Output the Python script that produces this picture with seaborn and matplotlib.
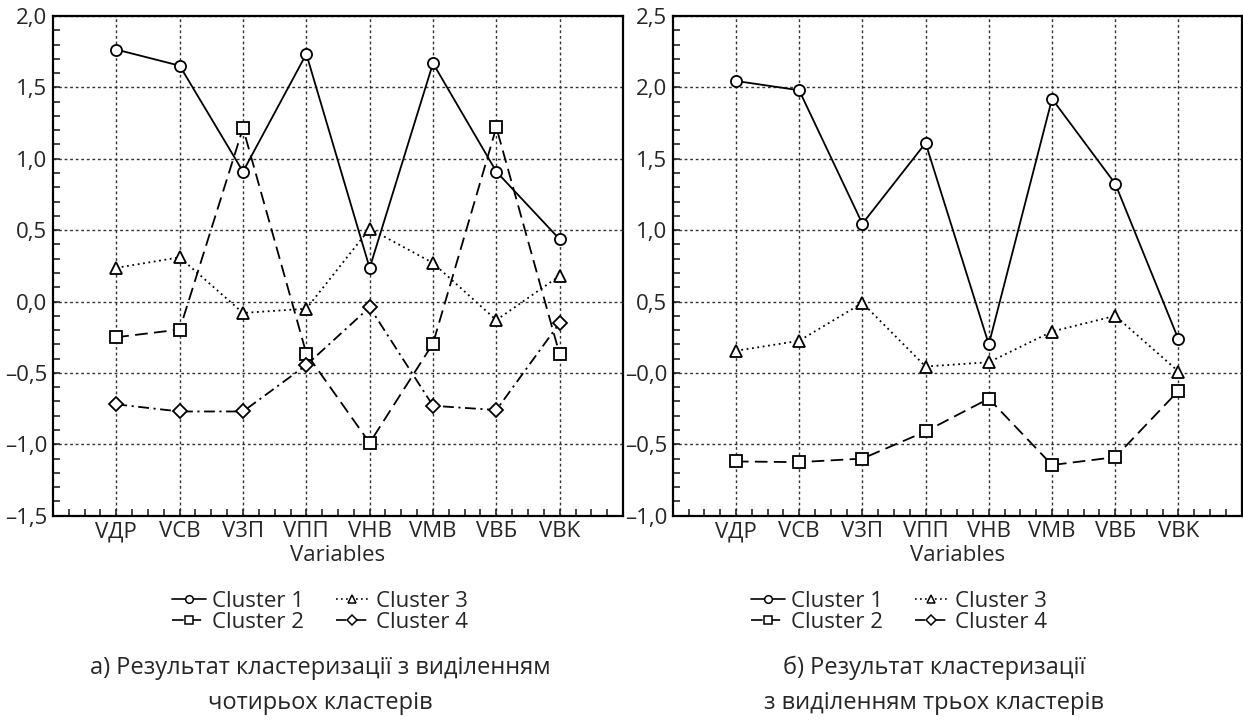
import seaborn as sns
import matplotlib.pyplot as plt
import pandas as pd
from matplotlib.lines import Line2D
from matplotlib.ticker import FixedLocator, MultipleLocator

# Дані
variables = ['VДР', 'VCB', 'V3П', 'VПП', 'VHB', 'VMB', 'VBБ', 'VBK']

# a) чотири кластери
c1_a = [1.765, 1.652, 0.910, 1.734, 0.235, 1.669, 0.910, 0.436]
c2_a = [-0.25, -0.196, 1.215, -0.364, -0.99, -0.294, 1.22, -0.37]
c3_a = [0.236, 0.31, -0.08, -0.05, 0.51, 0.27, -0.13, 0.18]
c4_a = [-0.72, -0.77, -0.77, -0.445, -0.04, -0.73, -0.76, -0.15]

# б) три кластери
c1_b = [2.045, 1.98, 1.045, 1.61, 0.20, 1.92, 1.325, 0.235]
c2_b = [-0.62, -0.625, -0.60, -0.41, -0.18, -0.645, -0.59, -0.125]
c3_b = [0.155, 0.225, 0.49, 0.045, 0.075, 0.29, 0.40, 0.01]

ytick_a = [-1.5, -1.0, -0.5, 0.0, 0.5, 1.0, 1.5, 2.0]
ylab_a = ['–1,5', '–1,0', '–0,5', '0,0', '0,5', '1,0', '1,5', '2,0']
ytick_b = [-1.0, -0.5, 0.0, 0.5, 1.0, 1.5, 2.0, 2.5]
ylab_b = ['–1,0', '–0,5', '–0,0', '0,5', '1,0', '1,5', '2,0', '2,5']

sns.set_style('white')
plt.rcParams['font.family'] = ['Open Sans', 'DejaVu Sans']

# стилі кластерів
styles = {
    'Cluster 1': dict(linestyle='-', marker='o'),
    'Cluster 2': dict(linestyle=(0, (7, 3.5)), marker='s'),
    'Cluster 3': dict(linestyle=(0, (1, 2)), marker='^'),
    'Cluster 4': dict(linestyle=(0, (6, 2.5, 1.2, 2.5)), marker='D'),
}
mk_size = {'o': 8, 's': 8, '^': 8.5, 'D': 7}

W, H = 1243, 722
fig = plt.figure(figsize=(W / 100, H / 100), dpi=100)
ax1 = fig.add_axes([53 / W, 1 - 515.7 / H, 570 / W, 499.7 / H])
ax2 = fig.add_axes([672.7 / W, 1 - 515.7 / H, 569 / W, 499.7 / H])


def draw(ax, series, yticks, ylabels):
    for name, vals in series.items():
        st = styles[name]
        df = pd.DataFrame({'var': variables, 'val': vals})
        sns.lineplot(data=df, x='var', y='val', ax=ax, color='black', linewidth=1.3,
                     linestyle=st['linestyle'], marker=st['marker'],
                     markersize=mk_size[st['marker']], markerfacecolor='white',
                     markeredgecolor='black', markeredgewidth=1.3, sort=False)
    ax.set_xlim(-1, len(variables))
    ax.set_ylim(yticks[0], yticks[-1])
    ax.yaxis.set_major_locator(FixedLocator(yticks))
    ax.set_yticklabels(ylabels)
    ax.yaxis.set_minor_locator(MultipleLocator(0.1))
    ax.xaxis.set_minor_locator(MultipleLocator(0.25))
    ax.tick_params(axis='both', which='both', direction='in', bottom=True, left=True,
                   top=False, right=False)
    ax.tick_params(axis='both', which='major', length=5, width=1.2, labelsize=16, pad=4)
    ax.tick_params(axis='both', which='minor', length=5, width=1.2)
    ax.grid(True, which='major', linestyle=(0, (2, 2)), color='#333333', linewidth=1)
    for s in ax.spines.values():
        s.set_color('black')
        s.set_linewidth(1.6)
    ax.set_xlabel('Variables', fontsize=16, labelpad=2)
    ax.set_ylabel('')


draw(ax1, {'Cluster 1': c1_a, 'Cluster 2': c2_a, 'Cluster 3': c3_a, 'Cluster 4': c4_a},
     ytick_a, ylab_a)
draw(ax2, {'Cluster 1': c1_b, 'Cluster 2': c2_b, 'Cluster 3': c3_b},
     ytick_b, ylab_b)

# легенди
handles = [Line2D([], [], color='black', linewidth=1.2, linestyle=styles[n]['linestyle'],
                  marker=styles[n]['marker'], markersize=5.5, markerfacecolor='white',
                  markeredgecolor='black', markeredgewidth=1.1, label=n)
           for n in styles]
for cx in (320, 899):
    fig.legend(handles=handles, ncol=2, loc='center', bbox_to_anchor=(cx / W, 1 - 612 / H),
               frameon=False, fontsize=16, handlelength=1.5, handletextpad=0.3,
               columnspacing=1.4, labelspacing=0.0, borderpad=0)

# підписи
fig.text(320 / W, 1 - 668 / H, 'а) Результат кластеризації з виділенням', ha='center', va='center', fontsize=17)
fig.text(320 / W, 1 - 703 / H, 'чотирьох кластерів', ha='center', va='center', fontsize=17)
fig.text(934 / W, 1 - 668 / H, 'б) Результат кластеризації', ha='center', va='center', fontsize=17)
fig.text(934 / W, 1 - 703 / H, 'з виділенням трьох кластерів', ha='center', va='center', fontsize=17)

fig.savefig('out.png', dpi=100)
